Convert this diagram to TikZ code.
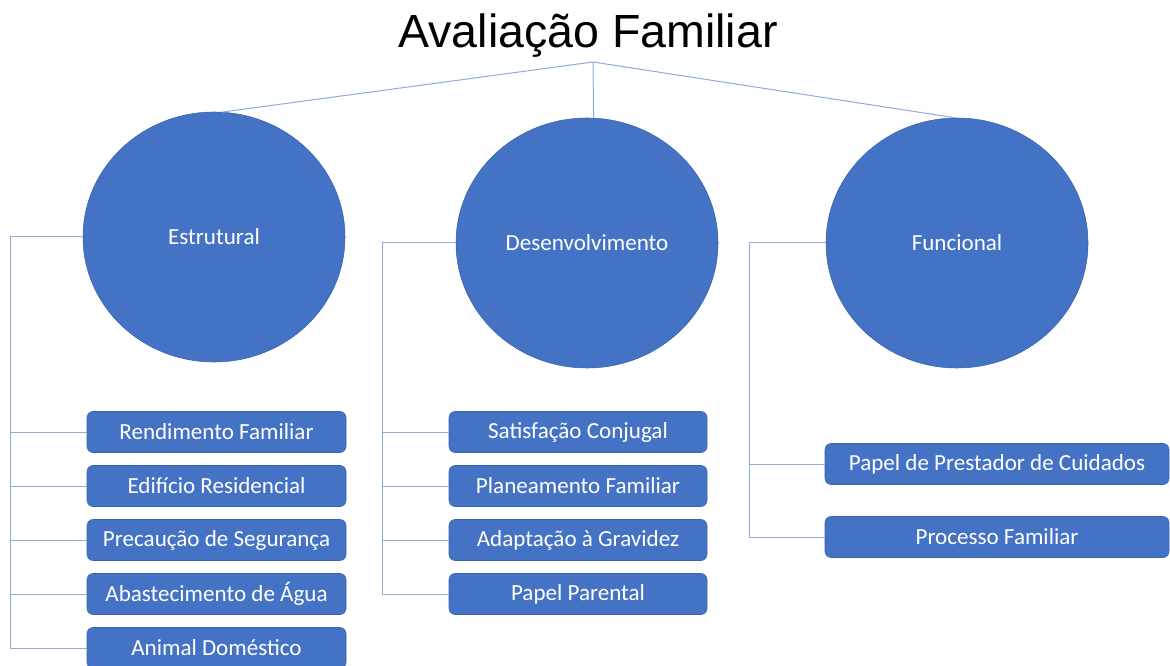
\documentclass[tikz,border=0pt]{standalone}
\usepackage{fontspec}
\setmainfont{Carlito}
\newfontfamily\titlefont{Liberation Sans}
\usetikzlibrary{shapes.geometric}
\definecolor{offblue}{HTML}{4472C4}
\definecolor{edgeblue}{HTML}{3A63AD}
\definecolor{linkblue}{HTML}{8FAADC}
\tikzstyle{topic} = [ellipse, minimum width=196.5pt, minimum height=187.5pt, inner sep=0pt, draw=edgeblue, fill=offblue, text=white, font=\fontsize{17.3}{20}\selectfont]
\tikzstyle{item} = [rectangle, rounded corners=4.5pt, minimum height=30.75pt, text centered, draw=edgeblue, fill=offblue, text=white, font=\fontsize{17.3}{20}\selectfont]
\tikzstyle{link} = [draw=linkblue, line width=0.75pt]

\begin{document}
\begin{tikzpicture}[x=0.75pt, y=-0.75pt, node distance=40.5pt]
	\useasboundingbox (0,0) rectangle (1170,666);
	\node (title) [anchor=base, font=\titlefont\fontsize{34.9}{40}\selectfont] at (588,48) {Avaliação Familiar};
	\coordinate (apex) at (593,62);

	\node (estr) [topic] at (214,237) {Estrutural};
	\node (desen) [topic] at (587,243) {Desenvolvimento};
	\node (func) [topic] at (957,243) {Funcional};

	\node (rend) [item, minimum width=194.25pt] at (216.5,432) {Rendimento Familiar};
	\node (edif) [item, minimum width=194.25pt, below of=rend] {Edifício Residencial};
	\node (prec) [item, minimum width=194.25pt, below of=edif] {Precaução de Segurança};
	\node (abast) [item, minimum width=194.25pt, below of=prec] {Abastecimento de Água};
	\node (anim) [item, minimum width=194.25pt, below of=abast] {Animal Doméstico};

	\node (satis) [item, minimum width=193.5pt] at (578,432) {Satisfação Conjugal};
	\node (plan) [item, minimum width=193.5pt, below of=satis] {Planeamento Familiar};
	\node (adapt) [item, minimum width=193.5pt, below of=plan] {Adaptação à Gravidez};
	\node (parent) [item, minimum width=193.5pt, below of=adapt] {Papel Parental};

	\node (prest) [item, minimum width=258pt] at (997,464) {Papel de Prestador de Cuidados};
	\node (proc) [item, minimum width=258pt] at (997,537) {Processo Familiar};

	\coordinate (lstem) at (10,237);
	\coordinate (mstem) at (382,243);
	\coordinate (rstem) at (749,243);

	\draw [link] (apex) -- (estr.86);
	\draw [link] (apex) -- (desen.87);
	\draw [link] (apex) -- (func.91);

	\draw [link] (estr.west) -- (lstem) |- (anim.west);
	\foreach \n in {rend, edif, prec, abast}
		\draw [link] (lstem |- \n.west) -- (\n.west);

	\draw [link] (desen.west) -- (mstem) |- (parent.west);
	\foreach \n in {satis, plan, adapt}
		\draw [link] (mstem |- \n.west) -- (\n.west);

	\draw [link] (func.west) -- (rstem) |- (proc.west);
	\draw [link] (rstem |- prest.west) -- (prest.west);
\end{tikzpicture}
\end{document}
